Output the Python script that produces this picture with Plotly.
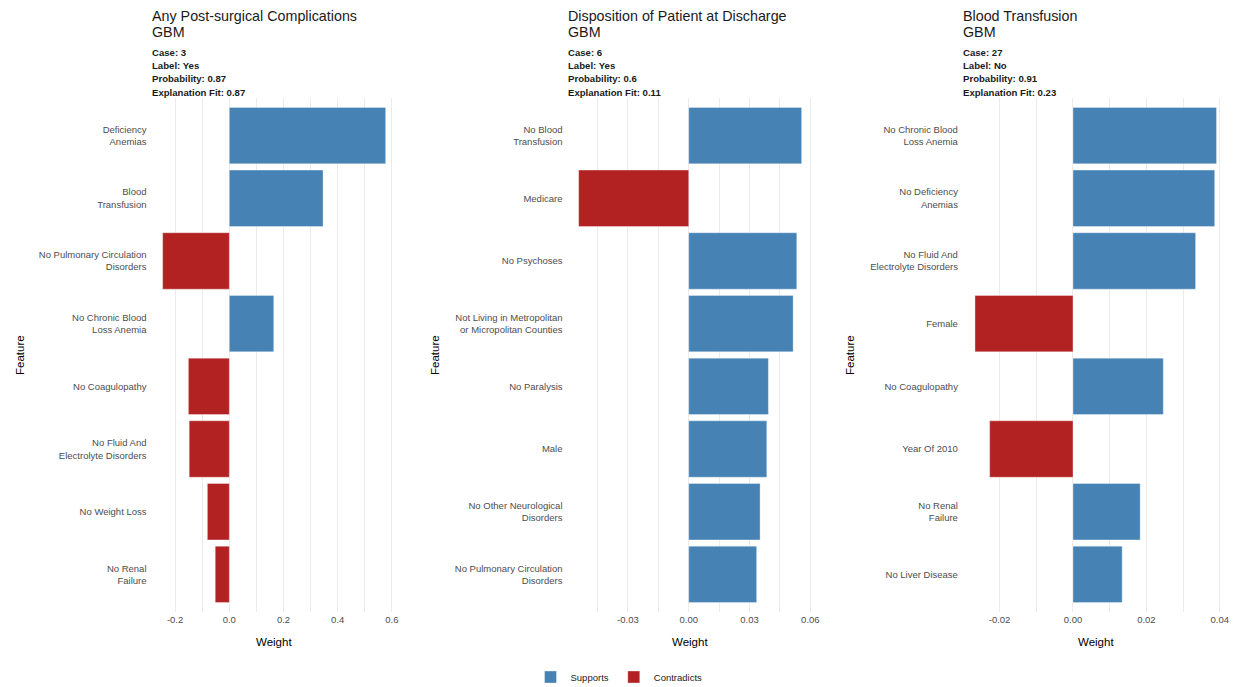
import plotly.graph_objects as go

# ---------------- data ----------------
titles = ["Any Post-surgical Complications", "Disposition of Patient at Discharge", "Blood Transfusion"]
model = "GBM"
cases = ["3", "6", "27"]
labels = ["Yes", "Yes", "No"]
probs = ["0.87", "0.6", "0.91"]
fits = ["0.87", "0.11", "0.23"]

features1 = ["Deficiency<br>Anemias", "Blood<br>Transfusion", "No Pulmonary Circulation<br>Disorders",
             "No Chronic Blood<br>Loss Anemia", "No Coagulopathy", "No Fluid And<br>Electrolyte Disorders",
             "No Weight Loss", "No Renal<br>Failure"]
weights1 = [0.577, 0.346, -0.246, 0.164, -0.151, -0.148, -0.081, -0.052]

features2 = ["No Blood<br>Transfusion", "Medicare", "No Psychoses",
             "Not Living in Metropolitan<br>or Micropolitan Counties", "No Paralysis", "Male",
             "No Other Neurological<br>Disorders", "No Pulmonary Circulation<br>Disorders"]
weights2 = [0.0557, -0.0543, 0.0533, 0.0515, 0.0393, 0.0385, 0.0352, 0.0335]

features3 = ["No Chronic Blood<br>Loss Anemia", "No Deficiency<br>Anemias", "No Fluid And<br>Electrolyte Disorders",
             "Female", "No Coagulopathy", "Year Of 2010", "No Renal<br>Failure", "No Liver Disease"]
weights3 = [0.0391, 0.0386, 0.0334, -0.0267, 0.0246, -0.0227, 0.0183, 0.0134]

tickvals1 = [-0.2, -0.1, 0.0, 0.1, 0.2, 0.3, 0.4, 0.5, 0.6]
ticktext1 = ["-0.2", "", "0.0", "", "0.2", "", "0.4", "", "0.6"]
tickvals2 = [-0.045, -0.03, -0.015, 0.0, 0.015, 0.03, 0.045, 0.06]
ticktext2 = ["", "-0.03", "", "0.00", "", "0.03", "", "0.06"]
tickvals3 = [-0.03, -0.02, -0.01, 0.0, 0.01, 0.02, 0.03, 0.04]
ticktext3 = ["", "-0.02", "", "0.00", "", "0.02", "", "0.04"]

# ---------------- style ----------------
W, H = 1238, 687
BLUE = "#4682B4"
RED = "#B22222"
FONT = "Liberation Sans, Arial, sans-serif"
panels_px = [(151.5, 396.8), (567.5, 812.8), (962.9, 1228.6)]
ytop_px, ybot_px = 98, 612
feature_title_x = [20, 435, 850]

features = [features1, features2, features3]
weights = [weights1, weights2, weights3]
tvs = [tickvals1, tickvals2, tickvals3]
tts = [ticktext1, ticktext2, ticktext3]

fig = go.Figure()
annotations = []

def py(p):
    return 1 - p / H

for i in range(3):
    sfx = "" if i == 0 else str(i + 1)
    feats, wts = features[i], weights[i]
    sup_y = [f for f, w in zip(feats, wts) if w > 0]
    sup_x = [w for w in wts if w > 0]
    con_y = [f for f, w in zip(feats, wts) if w <= 0]
    con_x = [w for w in wts if w <= 0]
    fig.add_trace(go.Bar(x=sup_x, y=sup_y, orientation="h", name="Supports",
                         marker=dict(color=BLUE, line=dict(color="rgba(255,255,255,0.35)", width=1)),
                         legendgroup="s", showlegend=(i == 0),
                         xaxis="x" + sfx, yaxis="y" + sfx))
    fig.add_trace(go.Bar(x=con_x, y=con_y, orientation="h", name="Contradicts",
                         marker=dict(color=RED, line=dict(color="rgba(255,255,255,0.35)", width=1)),
                         legendgroup="c", showlegend=(i == 0),
                         xaxis="x" + sfx, yaxis="y" + sfx))

    lo = min(min(wts), 0)
    hi = max(max(wts), 0)
    span = hi - lo
    xr = [lo - 0.05 * span, hi + 0.05 * span]
    x0, x1 = panels_px[i]
    fig.update_layout(**{
        "xaxis" + sfx: dict(domain=[x0 / W, x1 / W], range=xr, anchor="y" + sfx,
                            tickmode="array", tickvals=tvs[i], ticktext=tts[i],
                            showgrid=True, gridcolor="#ebebeb", gridwidth=1,
                            zeroline=False, showline=False, ticks="",
                            tickfont=dict(size=9.5, color="#4d4d4d", family=FONT)),
        "yaxis" + sfx: dict(domain=[py(ybot_px), py(ytop_px)], anchor="x" + sfx,
                            type="category", categoryorder="array", categoryarray=feats,
                            range=[len(feats) - 0.4, -0.6],
                            showgrid=False, zeroline=False, showline=False, ticks="",
                            ticklabelstandoff=4,
                            tickfont=dict(size=9.5, color="#4d4d4d", family=FONT)),
    })

    # titles
    annotations.append(dict(text=titles[i], x=x0 / W, y=py(15.7), xref="paper", yref="paper",
                            xanchor="left", yanchor="middle", showarrow=False, xshift=-2,
                            font=dict(size=14.3, color="#1a1a1a", family=FONT)))
    annotations.append(dict(text=model, x=x0 / W, y=py(32), xref="paper", yref="paper",
                            xanchor="left", yanchor="middle", showarrow=False, xshift=-2,
                            font=dict(size=14.3, color="#1a1a1a", family=FONT)))
    sub = [f"Case: {cases[i]}", f"Label: {labels[i]}", f"Probability: {probs[i]}",
           f"Explanation Fit: {fits[i]}"]
    for k, s in enumerate(sub):
        annotations.append(dict(text=f"<b>{s}</b>", x=x0 / W, y=py(52.3 + 13.3 * k),
                                xref="paper", yref="paper", xanchor="left", yanchor="middle",
                                showarrow=False, xshift=-2,
                                font=dict(size=9.6, color="#1a1a1a", family=FONT)))
    # axis titles
    annotations.append(dict(text="Weight", x=(x0 + x1) / 2 / W, y=py(642), xref="paper", yref="paper",
                            xanchor="center", yanchor="middle", showarrow=False,
                            font=dict(size=11.5, color="#000000", family=FONT)))
    annotations.append(dict(text="Feature", x=feature_title_x[i] / W, y=py((ytop_px + ybot_px) / 2),
                            xref="paper", yref="paper", xanchor="center", yanchor="middle",
                            textangle=-90, showarrow=False,
                            font=dict(size=11.5, color="#000000", family=FONT)))

fig.update_layout(
    width=W, height=H,
    margin=dict(l=0, r=0, t=0, b=0, autoexpand=False),
    paper_bgcolor="white", plot_bgcolor="white",
    barmode="relative", bargap=0.1,
    font=dict(family=FONT),
    annotations=annotations,
    legend=dict(orientation="h", x=0.5, xanchor="center", y=py(677), yanchor="middle",
                font=dict(size=9.5, color="#1a1a1a", family=FONT), itemwidth=30,
                traceorder="normal"),
)

fig.write_html("out.html")
